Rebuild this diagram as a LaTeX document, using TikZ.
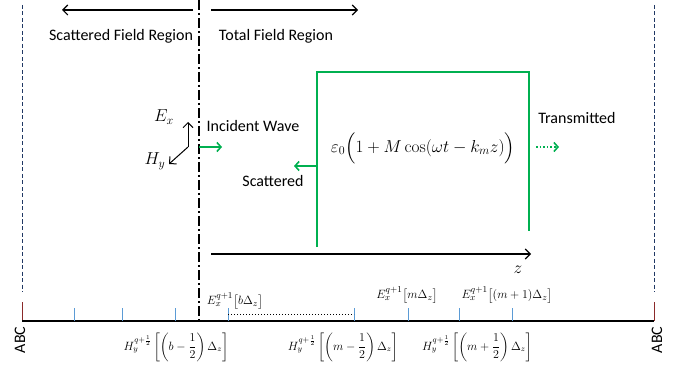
\documentclass[tikz,border=0pt]{standalone}
\usepackage{amsmath}
\usepackage[no-math]{fontspec}
\setmainfont{Carlito}
\usetikzlibrary{positioning,arrows.meta}
\definecolor{wavegreen}{HTML}{00B050}
\definecolor{tickblue}{HTML}{5B9BD5}
\definecolor{abcnavy}{HTML}{203864}
\definecolor{abcred}{HTML}{8B2A2A}

\begin{document}
\begin{tikzpicture}[
    x=1pt, y=-1pt,
    font=\fontsize{16}{19}\selectfont,
    wave/.style={draw=wavegreen, line width=1.6pt, -{Straight Barb[length=4pt,width=9pt]}},
    blackarrow/.style={draw=black, line width=1.1pt, -{Straight Barb[length=5pt,width=10pt]}},
    abcline/.style={draw=abcnavy, line width=0.8pt, dash pattern=on 4pt off 2.5pt},
    gridtick/.style={draw=tickblue, line width=0.8pt},
    fieldlabel/.style={font=\fontsize{13}{15}\selectfont, inner sep=1pt},
    halflabel/.style={font=\fontsize{12}{14}\selectfont, inner sep=1pt}
]
    \useasboundingbox (0,0) rectangle (684,379);

    % --- Absorbing boundaries and TF/SF boundary ---
    \coordinate (abcLtop) at (22,5);
    \coordinate (abcLend) at (22,292);
    \coordinate (abcLbar) at (22,302);
    \coordinate (abcL) at (22,321);
    \coordinate (abcRtop) at (654,5);
    \coordinate (abcRend) at (654,292);
    \coordinate (abcRbar) at (654,302);
    \coordinate (abcR) at (654,321);
    \coordinate (tfsftop) at (199,0);
    \coordinate (tfsf) at (199,321);

    \draw[abcline] (abcLtop) -- (abcLend);
    \draw[abcline] (abcRtop) -- (abcRend);
    \draw[abcred, line width=1pt] (abcLbar) -- (abcL);
    \draw[abcred, line width=1pt] (abcRbar) -- (abcR);
    \draw[line width=1.1pt, dash pattern=on 10pt off 3pt on 2pt off 3pt] (tfsftop) -- (tfsf);

    % --- Region arrows ---
    \coordinate (sfStart) at (193,10);
    \coordinate (sfEnd) at (62,10);
    \coordinate (tfStart) at (211,10);
    \coordinate (tfEnd) at (358,10);
    \draw[blackarrow] (sfStart) -- (sfEnd);
    \draw[blackarrow] (tfStart) -- (tfEnd);
    \node (sfregion) at (121,36) {Scattered Field Region};
    \node (tfregion) at (276,36) {Total Field Region};

    % --- Field orientation ---
    \coordinate (fieldO) at (188,147);
    \coordinate (exTip) at (188,122);
    \coordinate (hyTip) at (169,164);
    \draw[blackarrow, line width=1pt] (fieldO) -- (exTip);
    \draw[blackarrow, line width=1pt] (fieldO) -- (hyTip);
    \node[font=\fontsize{17}{20}\selectfont] (exlabel) at (164,117) {$E_x$};
    \node[font=\fontsize{17}{20}\selectfont] (hylabel) at (155,161) {$H_y$};

    % --- Modulated slab ---
    \coordinate (slabBL) at (317,247);
    \coordinate (slabTL) at (317,72);
    \coordinate (slabTR) at (529,72);
    \coordinate (slabBR) at (529,231);
    \draw[wavegreen, line width=1.8pt] (slabBL) -- (slabTL) -- (slabTR) -- (slabBR);
    \node[font=\fontsize{17}{20}\selectfont] (perm) at (423,148)
        {$\varepsilon_0\Bigl(1+M\cos(\omega t-k_m z)\Bigr)$};

    % --- Waves ---
    \coordinate (incStart) at (199,147);
    \coordinate (incEnd) at (222,147);
    \coordinate (scaStart) at (317,166);
    \coordinate (scaEnd) at (294,166);
    \coordinate (traStart) at (536,147);
    \coordinate (traEnd) at (559,147);
    \draw[wave] (incStart) -- (incEnd);
    \draw[wave] (scaStart) -- (scaEnd);
    \draw[wave, dotted] (traStart) -- (traEnd);
    \node (incident) at (253,126) {Incident Wave};
    \node (scattered) at (273,181) {Scattered};
    \node (transmitted) at (577,118) {Transmitted};

    % --- z axis ---
    \coordinate (zStart) at (211,254);
    \coordinate (zEnd) at (531,254);
    \draw[blackarrow] (zStart) -- (zEnd);
    \node[font=\fontsize{16}{19}\selectfont] (zlabel) at (518,270) {$z$};

    % --- Grid ---
    \draw[line width=1.2pt] (abcL) -- (abcR);
    \foreach \tx [count=\i] in {74,122,175,228,354,408,459,512}
        \draw[gridtick] (\tx,308) -- (\tx,321) coordinate (t\i);
    \draw[line width=1pt, dotted] ([yshift=7pt]t4) -- ([yshift=7pt]t5);

    \node[fieldlabel] (eb) at (235,301) {$E_x^{q+1}\bigl[b\Delta_z\bigr]$};
    \node[fieldlabel] (em) at (407,295) {$E_x^{q+1}\bigl[m\Delta_z\bigr]$};
    \node[fieldlabel] (emp) at (507,295) {$E_x^{q+1}\bigl[(m+1)\Delta_z\bigr]$};
    \node[halflabel] (hb) at (176,347) {$H_y^{q+\frac{1}{2}}\left[\left(b-\dfrac{1}{2}\right)\Delta_z\right]$};
    \node[halflabel] (hm) at (343,347) {$H_y^{q+\frac{1}{2}}\left[\left(m-\dfrac{1}{2}\right)\Delta_z\right]$};
    \node[halflabel] (hmp) at (477,347) {$H_y^{q+\frac{1}{2}}\left[\left(m+\dfrac{1}{2}\right)\Delta_z\right]$};

    \node[rotate=90] (abcLlabel) at (20,340) {ABC};
    \node[rotate=90] (abcRlabel) at (657,340) {ABC};
\end{tikzpicture}
\end{document}
